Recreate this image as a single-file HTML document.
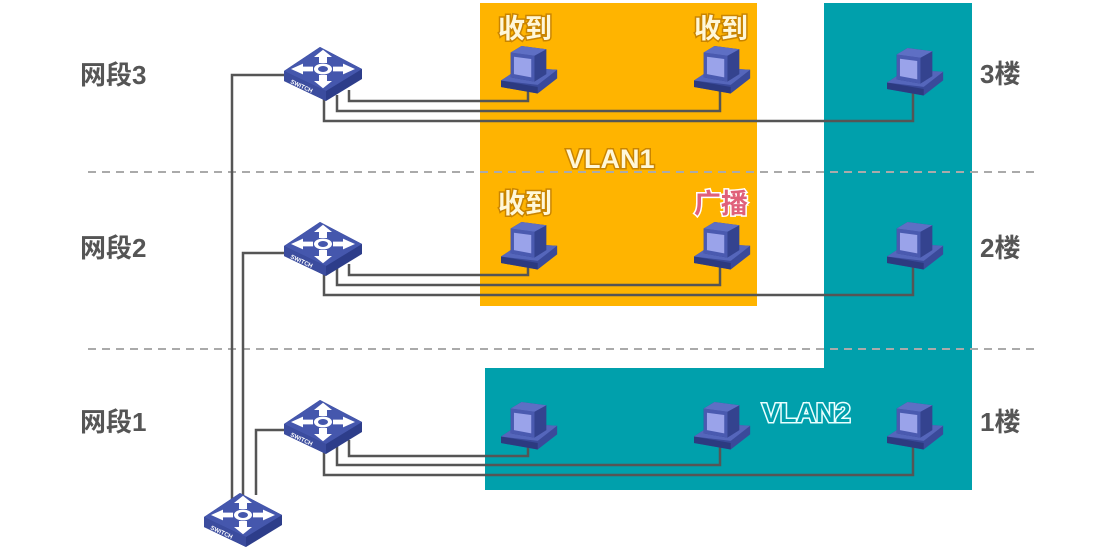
<!DOCTYPE html>
<html><head><meta charset="utf-8"><style>
html,body{margin:0;padding:0;background:#fff;}
svg{display:block;}
.lbl{font-family:"Liberation Sans","Noto Sans CJK SC",sans-serif;font-weight:bold;font-size:26px;fill:#555;}
.tag{font-family:"Liberation Sans","Noto Sans CJK SC",sans-serif;font-weight:bold;font-size:27px;}
</style></head><body>
<svg width="1110" height="548" viewBox="0 0 1110 548" xmlns="http://www.w3.org/2000/svg">
<defs>
<g id="pc" transform="scale(1.08)">
  <polygon points="0,32 18,20 52,22 52,30 34,44 0,38" fill="#3a4a9a"/>
  <polygon points="0,32 34,38 34,44 0,38" fill="#2c3a80"/>
  <polygon points="0,32 18,20 52,22 34,36" fill="#5566bb"/>
  <polygon points="9,6 19,0 42,3 42,26 31,33 9,29" fill="#34438f"/>
  <polygon points="9,6 31,9 31,33 9,29" fill="#4a5ab0"/>
  <polygon points="12,10 28,12 28,29 12,26" fill="#9aa3ea"/>
  <polygon points="9,6 19,0 42,3 31,9" fill="#5e6fc4"/>
</g>
<g id="sw">
  <polygon points="0,24 36,0 78,22 78,32 42,54 0,34" fill="#2d3d8a"/>
  <polygon points="0,24 42,44 42,54 0,34" fill="#3b4c9e"/>
  <polygon points="0,24 36,0 78,22 42,44" fill="#4557ad"/>
  <g fill="#fff" transform="translate(39,22) scale(1,0.6)">
    <circle cx="0" cy="0" r="7" fill="none" stroke="#fff" stroke-width="4"/>
    <polygon points="-4,-10 4,-10 4,-20 9,-20 0,-32 -9,-20 -4,-20"/>
    <polygon points="-4,10 4,10 4,20 9,20 0,32 -9,20 -4,20"/>
    <polygon points="-10,-4 -10,4 -20,4 -20,9 -32,0 -20,-9 -20,-4"/>
    <polygon points="10,-4 10,4 20,4 20,9 32,0 20,-9 20,-4"/>
  </g>
  <text x="6" y="36" font-family="Liberation Sans" font-size="6" font-weight="bold" fill="#fff" transform="rotate(25 6 36)">SWITCH</text>
</g>
</defs>

<rect x="480" y="3" width="277" height="303" fill="#FFB400"/>
<polygon points="824,3 972,3 972,490 485,490 485,368 824,368" fill="#00A0AC"/>

<line x1="88" y1="172" x2="1035" y2="172" stroke="#aaa" stroke-width="2" stroke-dasharray="8,6"/>
<line x1="88" y1="349" x2="1035" y2="349" stroke="#aaa" stroke-width="2" stroke-dasharray="8,6"/>

<g fill="none" stroke="#555" stroke-width="2.5">
  <polyline points="232,500 232,75 286,75"/>
  <polyline points="243,500 243,253 286,253"/>
  <polyline points="256,495 256,430 290,430"/>
  <polyline points="349,90 349,101 528,101 528,90"/>
  <polyline points="337,95 337,111 720,111 720,90"/>
  <polyline points="324,98 324,121 913,121 913,92"/>
  <polyline points="349,264 349,275 528,275 528,266"/>
  <polyline points="337,268 337,285 720,285 720,266"/>
  <polyline points="324,272 324,295 913,295 913,266"/>
  <polyline points="349,440 349,456 528,456 528,446"/>
  <polyline points="337,445 337,465 720,465 720,446"/>
  <polyline points="324,448 324,475 913,475 913,446"/>
</g>

<use href="#sw" x="284" y="47"/>
<use href="#sw" x="284" y="222"/>
<use href="#sw" x="284" y="400"/>
<use href="#sw" x="204" y="493"/>

<use href="#pc" x="501" y="46"/>
<use href="#pc" x="694" y="46"/>
<use href="#pc" x="887" y="48"/>
<use href="#pc" x="501" y="222"/>
<use href="#pc" x="694" y="222"/>
<use href="#pc" x="887" y="222"/>
<use href="#pc" x="501" y="402"/>
<use href="#pc" x="694" y="402"/>
<use href="#pc" x="887" y="402"/>

<text class="lbl" x="80" y="84">网段3</text>
<text class="lbl" x="80" y="257">网段2</text>
<text class="lbl" x="80" y="431">网段1</text>
<text class="lbl" x="980" y="83">3楼</text>
<text class="lbl" x="980" y="257">2楼</text>
<text class="lbl" x="980" y="431">1楼</text>

<g class="tag" stroke="#c98400" stroke-width="3" paint-order="stroke" fill="#fff7d8">
  <text x="498" y="38">收到</text>
  <text x="694" y="38">收到</text>
  <text x="498" y="213">收到</text>
  <text x="566" y="168">VLAN1</text>
</g>
<text class="tag" x="694" y="213" fill="#e0607a" stroke="#fff" stroke-width="3" paint-order="stroke">广播</text>
<text class="tag" x="762" y="422" fill="#00A0AC" stroke="#e8ffff" stroke-width="3" paint-order="stroke">VLAN2</text>
</svg>
</body></html>
